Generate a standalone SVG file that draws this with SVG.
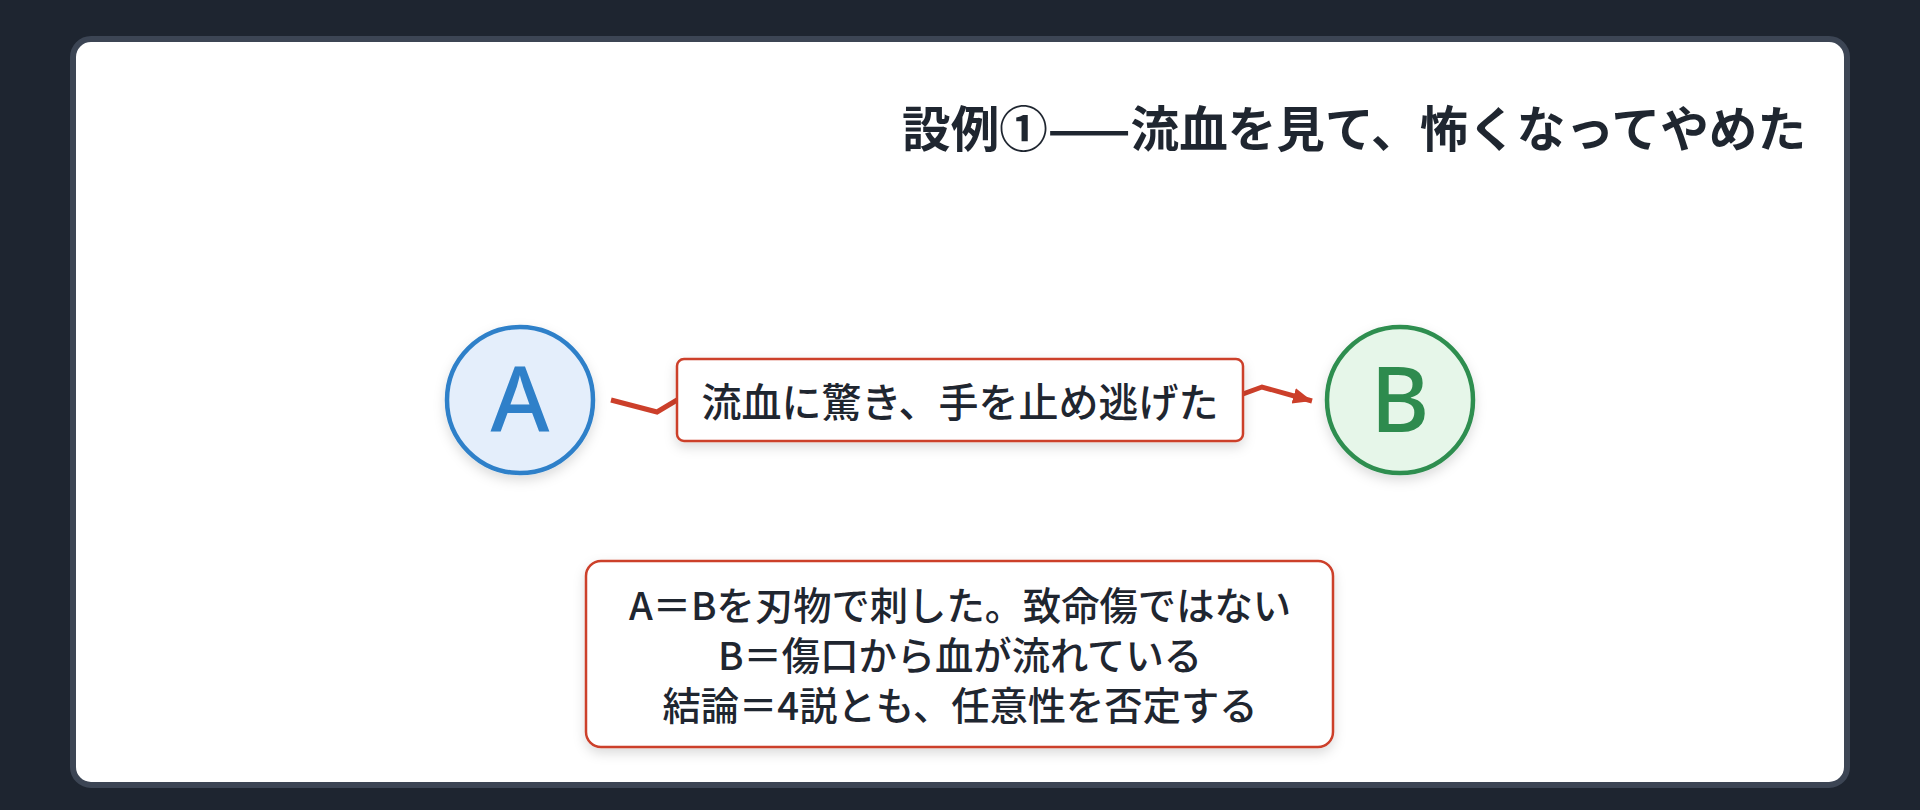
<svg xmlns="http://www.w3.org/2000/svg" width="1920" height="810" viewBox="0 0 1920 810">
  <defs>
    <style>
      .jp { font-family: "Noto Sans CJK JP", "Noto Sans", sans-serif; fill: #1f2630; }
      .title { font-size: 48.6px; font-weight: 700; }
      .label { font-size: 40px; font-weight: 500; }
      .note { font-size: 38.3px; font-weight: 500; }
      .letter { font-family: "Noto Sans", "Open Sans", sans-serif; font-size: 90px; font-weight: 500; }
      .conn { fill: none; stroke: #cc3f2a; stroke-width: 5; stroke-linejoin: miter; }
      .box { fill: #ffffff; stroke: #cc3f2a; stroke-width: 2.5; }
    </style>
    <filter id="shadow" x="-20%" y="-20%" width="140%" height="150%">
      <feDropShadow dx="0" dy="5" stdDeviation="6" flood-color="#000000" flood-opacity="0.14"/>
    </filter>
    <marker id="arrow" markerUnits="userSpaceOnUse" markerWidth="22" markerHeight="18" refX="19" refY="8" orient="auto">
      <path d="M0,0 L19,8 L0,16 Z" fill="#cc3f2a"/>
    </marker>
  </defs>

  <rect x="0" y="0" width="1920" height="810" fill="#1e2530"/>
  <rect id="card" x="73" y="39" width="1774" height="746" rx="18" ry="18" fill="#ffffff" stroke="#3c4554" stroke-width="6"/>

  <g id="title">
    <text class="jp title" x="1806" y="126" text-anchor="end" dominant-baseline="central">設例①——流血を見て、怖くなってやめた</text>
  </g>

  <g id="connectors">
    <path class="conn" d="M611,400 L657,412 L682,397 L1240,395 L1262,387 L1312,401" marker-end="url(#arrow)"/>
  </g>

  <g id="nodeA">
    <circle cx="520" cy="400" r="73" fill="#e4eefb" stroke="#2f80c9" stroke-width="4.5" filter="url(#shadow)"/>
    <text class="letter" x="520" y="432" text-anchor="middle" fill="#2f80c9">A</text>
  </g>

  <g id="nodeB">
    <circle cx="1400" cy="400" r="73" fill="#e6f6e9" stroke="#2e8e50" stroke-width="4.5" filter="url(#shadow)"/>
    <text class="letter" x="1400" y="432" text-anchor="middle" fill="#2e8b4e">B</text>
  </g>

  <g id="edgeLabel">
    <rect class="box" x="677" y="359" width="566" height="82" rx="7" ry="7" filter="url(#shadow)"/>
    <text class="jp label" x="960" y="400" text-anchor="middle" dominant-baseline="central">流血に驚き、手を止め逃げた</text>
  </g>

  <g id="note">
    <rect class="box" x="586" y="561" width="747" height="186" rx="15" ry="15" filter="url(#shadow)"/>
    <text class="jp note" x="960" y="603" text-anchor="middle" dominant-baseline="central">A＝Bを刃物で刺した。致命傷ではない</text>
    <text class="jp note" x="960" y="653" text-anchor="middle" dominant-baseline="central">B＝傷口から血が流れている</text>
    <text class="jp note" x="960" y="703" text-anchor="middle" dominant-baseline="central">結論＝4説とも、任意性を否定する</text>
  </g>
</svg>
